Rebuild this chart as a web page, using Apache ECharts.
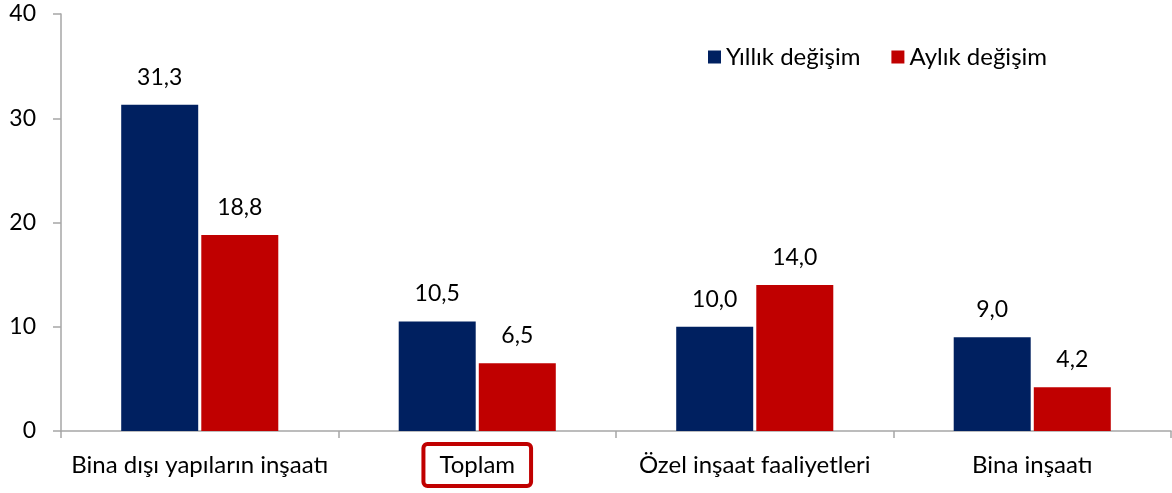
<!DOCTYPE html>
<html>
<head>
<meta charset="utf-8">
<script src="https://cdn.jsdelivr.net/npm/echarts@6/dist/echarts.min.js"></script>
<style>
    html, body { margin: 0; padding: 0; background: #fff; }
    #main { width: 1172px; height: 493px; }
</style>
</head>
<body>
<div id="main"></div>
<script>
var categories = ['Bina dışı yapıların inşaatı', 'Toplam', 'Özel inşaat faaliyetleri', 'Bina inşaatı'];
var yillik = [31.3, 10.5, 10.0, 9.0];
var aylik = [18.8, 6.5, 14.0, 4.2];
var seriesNames = ['Yıllık değişim', 'Aylık değişim'];
var highlighted = 'Toplam';

var FONT = 'Lato';

function valueLabel() {
    return {
        show: true,
        position: 'top',
        distance: 16,
        color: '#000',
        fontFamily: FONT,
        fontSize: 23,
        formatter: function (p) {
            return p.value.toFixed(1).replace('.', ',');
        }
    };
}

var myChart = echarts.init(document.getElementById('main'));

var option = {
    animation: false,
    textStyle: { fontFamily: FONT },
    grid: { left: 61, right: 1, top: 14, bottom: 62 },
    legend: {
        data: seriesNames,
        left: 703,
        top: 40,
        itemWidth: 13,
        itemHeight: 13,
        itemGap: 31,
        icon: 'rect',
        textStyle: { fontFamily: FONT, fontSize: 24, color: '#000' }
    },
    xAxis: {
        type: 'category',
        data: categories,
        axisLine: { lineStyle: { color: '#a6a6a6', width: 1.5 } },
        axisTick: { show: true, length: 7, lineStyle: { color: '#a6a6a6', width: 1.5 } },
        axisLabel: {
            margin: 13,
            interval: 0,
            formatter: function (v) {
                return v === highlighted ? '{b|' + v + '}' : '{n|' + v + '}';
            },
            rich: {
                n: { fontFamily: FONT, fontSize: 24, color: '#000', padding: [9, 16, 9, 16] },
                b: {
                    fontFamily: FONT, fontSize: 24, color: '#000', padding: [9, 16, 9, 16],
                    borderColor: '#c00000', borderWidth: 4, borderRadius: 4
                }
            }
        }
    },
    yAxis: {
        type: 'value',
        min: 0,
        max: 40,
        interval: 10,
        splitLine: { show: false },
        axisLine: { show: true, lineStyle: { color: '#a6a6a6', width: 1.5 } },
        axisTick: { show: true, length: 8, lineStyle: { color: '#a6a6a6', width: 1.5 } },
        axisLabel: { margin: 25, color: '#000', fontFamily: FONT, fontSize: 23 }
    },
    series: [
        {
            name: seriesNames[0],
            type: 'bar',
            data: yillik,
            barWidth: 77,
            barGap: '4%',
            itemStyle: { color: '#002060' },
            label: valueLabel()
        },
        {
            name: seriesNames[1],
            type: 'bar',
            data: aylik,
            barWidth: 77,
            barGap: '4%',
            itemStyle: { color: '#c00000' },
            label: valueLabel()
        }
    ]
};
myChart.setOption(option);
</script>
</body>
</html>
